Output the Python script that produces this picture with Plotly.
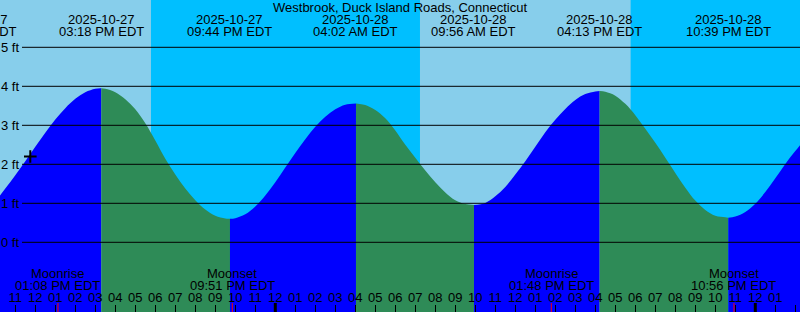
import plotly.graph_objects as go
from datetime import datetime

location = "Westbrook, Duck Island Roads, Connecticut"

# Tide curve (ft), half-hourly plus the turning points
tide_times = [
    "2025-10-27 08:59", "2025-10-27 09:30", "2025-10-27 10:00", "2025-10-27 10:30",
    "2025-10-27 11:00", "2025-10-27 11:30", "2025-10-27 12:00", "2025-10-27 12:30",
    "2025-10-27 13:00", "2025-10-27 13:30", "2025-10-27 14:00", "2025-10-27 14:30",
    "2025-10-27 15:00", "2025-10-27 15:18", "2025-10-27 15:30", "2025-10-27 16:00",
    "2025-10-27 16:30", "2025-10-27 17:00", "2025-10-27 17:30", "2025-10-27 18:00",
    "2025-10-27 18:30", "2025-10-27 19:00", "2025-10-27 19:30", "2025-10-27 20:00",
    "2025-10-27 20:30", "2025-10-27 21:00", "2025-10-27 21:30", "2025-10-27 21:44",
    "2025-10-27 22:00", "2025-10-27 22:30", "2025-10-27 23:00", "2025-10-27 23:30",
    "2025-10-28 00:00", "2025-10-28 00:30", "2025-10-28 01:00", "2025-10-28 01:30",
    "2025-10-28 02:00", "2025-10-28 02:30", "2025-10-28 03:00", "2025-10-28 03:30",
    "2025-10-28 04:02", "2025-10-28 04:30", "2025-10-28 05:00", "2025-10-28 05:30",
    "2025-10-28 06:00", "2025-10-28 06:30", "2025-10-28 07:00", "2025-10-28 07:30",
    "2025-10-28 08:00", "2025-10-28 08:30", "2025-10-28 09:00", "2025-10-28 09:30",
    "2025-10-28 09:56", "2025-10-28 10:30", "2025-10-28 11:00", "2025-10-28 11:30",
    "2025-10-28 12:00", "2025-10-28 12:30", "2025-10-28 13:00", "2025-10-28 13:30",
    "2025-10-28 14:00", "2025-10-28 14:30", "2025-10-28 15:00", "2025-10-28 15:30",
    "2025-10-28 16:00", "2025-10-28 16:13", "2025-10-28 16:30", "2025-10-28 17:00",
    "2025-10-28 17:30", "2025-10-28 18:00", "2025-10-28 18:30", "2025-10-28 19:00",
    "2025-10-28 19:30", "2025-10-28 20:00", "2025-10-28 20:30", "2025-10-28 21:00",
    "2025-10-28 21:30", "2025-10-28 22:00", "2025-10-28 22:30", "2025-10-28 22:39",
    "2025-10-28 23:00", "2025-10-28 23:30", "2025-10-29 00:00", "2025-10-29 00:30",
    "2025-10-29 01:00", "2025-10-29 01:30", "2025-10-29 02:00", "2025-10-29 02:30",
    "2025-10-29 03:00",
]
tide_heights = [
    0.72, 0.84, 1.06, 1.38,
    1.72, 2.08, 2.45, 2.81,
    3.15, 3.44, 3.68, 3.85,
    3.94, 3.95, 3.94, 3.85,
    3.67, 3.41, 3.05, 2.61,
    2.14, 1.74, 1.38, 1.08,
    0.84, 0.68, 0.61, 0.605,
    0.62, 0.72, 0.92, 1.20,
    1.54, 1.92, 2.29, 2.64,
    2.96, 3.22, 3.41, 3.53,
    3.56, 3.52, 3.39, 3.18,
    2.87, 2.50, 2.17, 1.84,
    1.54, 1.28, 1.08, 0.98,
    0.956, 1.01, 1.18, 1.42,
    1.74, 2.08, 2.45, 2.82,
    3.14, 3.42, 3.65, 3.80,
    3.87, 3.88, 3.86, 3.76,
    3.55, 3.26, 2.91, 2.55,
    2.17, 1.78, 1.40, 1.07,
    0.83, 0.68, 0.64, 0.63,
    0.66, 0.78, 0.99, 1.29,
    1.64, 2.01, 2.34, 2.66,
    3.00,
]

extreme_times = ["2025-10-27 08:59", "2025-10-27 15:18", "2025-10-27 21:44",
                 "2025-10-28 04:02", "2025-10-28 09:56", "2025-10-28 16:13",
                 "2025-10-28 22:39"]

moon_times = ["2025-10-27 13:08", "2025-10-27 21:51", "2025-10-28 13:48", "2025-10-28 22:56"]
moon_events = ["Moonrise", "Moonset", "Moonrise", "Moonset"]

night_starts = ["2025-10-27 17:47", "2025-10-28 17:46"]
night_ends = ["2025-10-28 07:14", "2025-10-29 07:15"]
midnights = ["2025-10-28 00:00", "2025-10-29 00:00"]
level_ticks = [0, 1, 2, 3, 4, 5]

now_time = "2025-10-27 11:45"
now_height = 2.2

view_start = "2025-10-27 10:14:06"
view_end = "2025-10-29 02:14:06"
y_range = [-1.787, 6.213]

W, H = 800, 312
FONT = "Liberation Sans, Arial, sans-serif"
FS = 13
DAY = "#87CEEB"
NIGHT = "#00BFFF"
RISE = "#0000FF"
FALL = "#2E8B57"

P = lambda s: datetime.strptime(s, "%Y-%m-%d %H:%M" if s.count(":") == 1 else "%Y-%m-%d %H:%M:%S")

pts = sorted(zip([P(t) for t in tide_times], tide_heights))
ext = [P(t) for t in extreme_times]
bounds = ext + [pts[-1][0]]

fig = go.Figure()
for a, b in zip(bounds[:-1], bounds[1:]):
    seg = [(t, h) for t, h in pts if a <= t <= b]
    if len(seg) < 2:
        continue
    color = RISE if seg[-1][1] > seg[0][1] else FALL
    fig.add_trace(go.Scatter(x=[seg[0][0], seg[-1][0]], y=[y_range[0]] * 2, mode="lines",
                             line=dict(width=0), hoverinfo="skip", showlegend=False))
    fig.add_trace(go.Scatter(x=[t for t, _ in seg], y=[h for _, h in seg], mode="lines",
                             line=dict(width=0, shape="spline", color=color),
                             fill="tonexty", fillcolor=color, hoverinfo="skip", showlegend=False))

fig.add_trace(go.Scatter(x=[P(now_time)], y=[now_height], mode="markers",
                         marker=dict(symbol="cross-thin", size=9, line=dict(width=2, color="black")),
                         hoverinfo="skip", showlegend=False))

shapes = []
for s, e in zip(night_starts, night_ends):
    shapes.append(dict(type="rect", xref="x", yref="paper", x0=P(s), x1=P(e), y0=0, y1=1,
                       fillcolor=NIGHT, line=dict(width=0), layer="below"))
for v in level_ticks:
    shapes.append(dict(type="line", xref="paper", yref="y", x0=22 / W, x1=1, y0=v, y1=v,
                       line=dict(color="black", width=1), layer="above"))
for m in midnights:
    shapes.append(dict(type="line", xref="x", yref="paper", x0=P(m), x1=P(m), y0=0, y1=9 / H,
                       line=dict(color="black", width=3), layer="above"))
for m in moon_times:
    shapes.append(dict(type="line", xref="x", yref="paper", x0=P(m), x1=P(m), y0=0, y1=9 / H,
                       line=dict(color="red", width=1), layer="above"))

t0, t1 = P(view_start), P(view_end)
font = dict(family=FONT, size=FS, color="black")

def ann(text, t, py):
    f = (t - t0) / (t1 - t0)
    d = dict(text=text, yref="paper", y=1 - py / H, yanchor="middle", xanchor="center",
             showarrow=False, font=font)
    if 0 <= f <= 1:
        d.update(xref="x", x=t)
    else:
        d.update(xref="paper", x=f)
    return d

annotations = [dict(text=location, xref="paper", x=0.5, yref="paper", y=1 - 7.3 / H,
                    yanchor="middle", xanchor="center", showarrow=False, font=font)]
for s in extreme_times:
    t = P(s)
    annotations.append(ann(t.strftime("%Y-%m-%d"), t, 19.3))
    annotations.append(ann(t.strftime("%I:%M %p EDT"), t, 31.5))
for s, name in zip(moon_times, moon_events):
    t = P(s)
    annotations.append(ann(name, t, 273.3))
    annotations.append(ann(t.strftime("%I:%M %p EDT"), t, 285.3))
for v in level_ticks:
    annotations.append(dict(text=f"{v} ft", xref="paper", x=20.5 / W, xanchor="right",
                            yref="y", y=v, yanchor="middle", showarrow=False, font=font))

fig.update_layout(
    width=W, height=H, margin=dict(l=0, r=0, t=0, b=0),
    paper_bgcolor=DAY, plot_bgcolor=DAY,
    shapes=shapes, annotations=annotations, showlegend=False,
    xaxis=dict(type="date", range=[view_start, view_end], showgrid=False, zeroline=False,
               showline=False, ticks="inside", ticklen=7, tickwidth=1, tickcolor="black",
               tick0="2025-10-27 00:00", dtick=3600000, tickformat="%I",
               ticklabelposition="inside", tickfont=font, fixedrange=True),
    yaxis=dict(range=y_range, visible=False, fixedrange=True),
)

fig.write_html("out.html")
